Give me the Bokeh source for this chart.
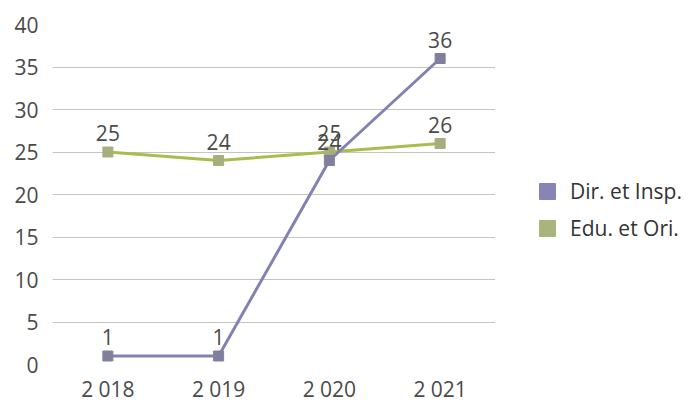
from bokeh.plotting import figure
from bokeh.models import Range1d, Legend, LegendItem, ColumnDataSource
from bokeh.layouts import row
from bokeh.core.properties import value
from bokeh.embed import file_html
from bokeh.resources import INLINE

years = ["2 018", "2 019", "2 020", "2 021"]
dir_insp = [1, 1, 24, 36]
edu_ori = [25, 24, 25, 26]
y_ticks = [0, 5, 10, 15, 20, 25, 30, 35, 40]
series_names = ["Dir. et Insp.", "Edu. et Ori."]

FONT = "Open Sans"
H = 405
PW = 495
LW = 197
p = figure(x_range=years, y_range=Range1d(0, 40), width=PW, height=H,
           output_backend="svg", toolbar_location=None,
           min_border_left=52, min_border_top=24, min_border_bottom=H - 364,
           min_border_right=0)
p.outline_line_color = None
p.xgrid.grid_line_color = None
p.ygrid.grid_line_color = "#c4c4c4"
p.ygrid.grid_line_width = 1
p.yaxis.ticker = y_ticks
for ax in (p.xaxis[0], p.yaxis[0]):
    ax.axis_line_color = None
    ax.major_tick_line_color = None
    ax.minor_tick_line_color = None
    ax.major_tick_out = 0
    ax.major_tick_in = 0
    ax.minor_tick_out = 0
    ax.minor_tick_in = 0
    ax.major_label_text_font = FONT
    ax.major_label_text_font_size = "21px"
    ax.major_label_text_color = "#4a4a4a"
p.yaxis.major_label_standoff = 14
p.xaxis.major_label_standoff = 10

s1 = ColumnDataSource(dict(x=years, y=dir_insp, t=[str(v) for v in dir_insp]))
s2 = ColumnDataSource(dict(x=years, y=edu_ori, t=[str(v) for v in edu_ori]))

p.line("x", "y", source=s2, line_color="#a8bd4e", line_width=3)
p.scatter("x", "y", source=s2, marker="square", size=10, fill_color="#a7ad7c", line_color="#a7ad7c")
p.line("x", "y", source=s1, line_color="#8282b2", line_width=3)
p.scatter("x", "y", source=s1, marker="square", size=10, fill_color="#80809e", line_color="#80809e")

for s in (s2, s1):
    p.text("x", "y", text="t", source=s, text_align="center", text_baseline="alphabetic",
           y_offset=-19, text_font=value(FONT), text_font_size="21px", text_color="#4a4a4a")

# legend panel (swatch renderers hold no visible data)
lp = figure(width=LW, height=H, output_backend="svg", toolbar_location=None,
            x_axis_location=None, y_axis_location=None,
            x_range=Range1d(0, 1), y_range=Range1d(0, 1),
            min_border_left=0, min_border_right=0, min_border_top=0, min_border_bottom=0)
lp.outline_line_color = None
lp.grid.grid_line_color = None
nan = float("nan")
swatch = ColumnDataSource(dict(l=[nan], r=[nan], b=[nan], t=[nan]))
q1 = lp.quad(left="l", right="r", bottom="b", top="t", source=swatch,
             fill_color="#8785b6", line_color="#8785b6")
q2 = lp.quad(left="l", right="r", bottom="b", top="t", source=swatch,
             fill_color="#a8b47a", line_color="#a8b47a")

legend = Legend(items=[LegendItem(label=series_names[0], renderers=[q1]),
                       LegendItem(label=series_names[1], renderers=[q2])],
                location=(42, 122))
legend.border_line_color = None
legend.background_fill_alpha = 0
legend.glyph_width = 20
legend.glyph_height = 20
legend.label_height = 20
legend.label_standoff = 13
legend.spacing = 9
legend.label_text_font = FONT
legend.label_text_font_size = "21px"
legend.label_text_color = "#333333"
legend.margin = 0
legend.padding = 0
lp.add_layout(legend, "center")

layout = row(p, lp)
open("out.html", "w").write(file_html(layout, INLINE))
